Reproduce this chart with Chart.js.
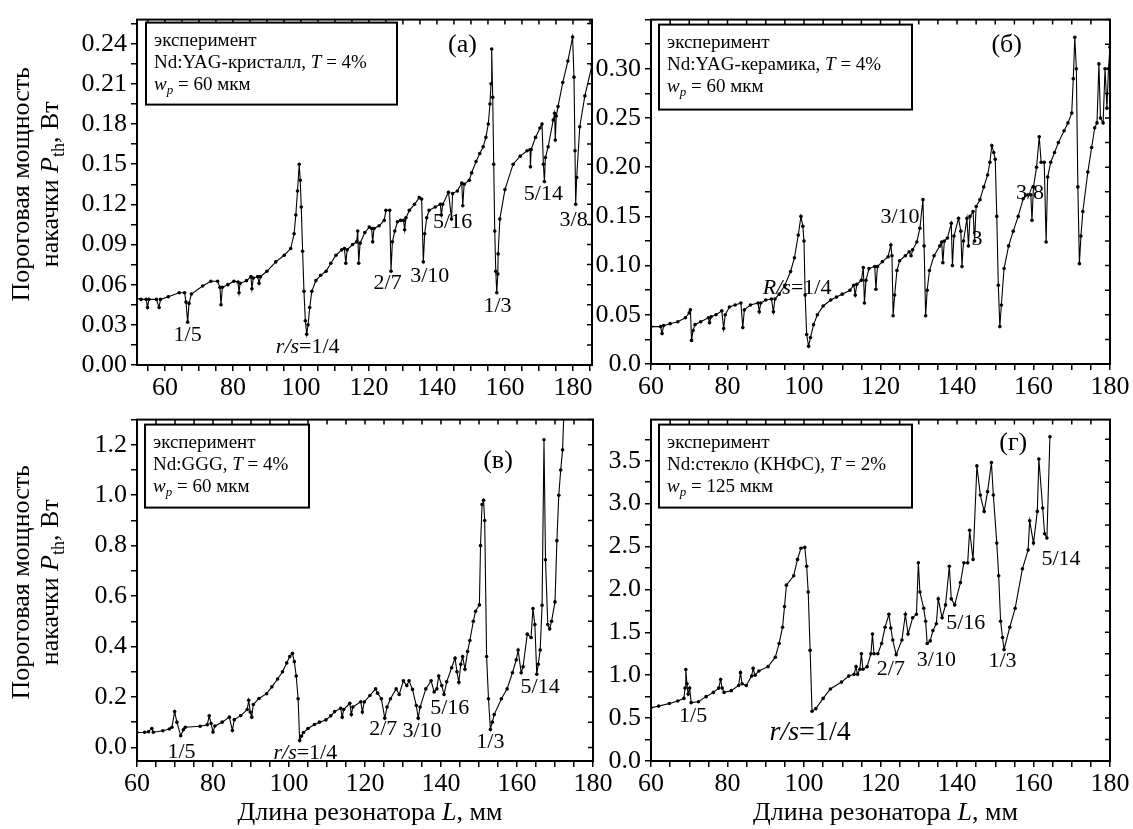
<!DOCTYPE html>
<html>
<head>
<meta charset="utf-8">
<script src="https://cdn.jsdelivr.net/npm/chart.js@4.4.1/dist/chart.umd.min.js"></script>
<style>
  html, body { margin: 0; padding: 0; background: #fff; }
  #wrap { position: relative; width: 1133px; height: 829px; overflow: hidden; }
  canvas { position: absolute; }
</style>
</head>
<body>
<div id="wrap">
  <canvas id="pa" width="620" height="400" style="left:0;top:0"></canvas>
  <canvas id="pb" width="538" height="400" style="left:595px;top:0"></canvas>
  <canvas id="pc" width="620" height="429" style="left:0;top:400px"></canvas>
  <canvas id="pd" width="538" height="429" style="left:595px;top:400px"></canvas>
</div>
<script>
/* ============================================
   DATA  (L, mm  ->  P_th, W)
============================================ */
const seriesA = [
  [51.5,.050],[53,.049],[54.5,.049],[54.9,.043],[55.3,.049],[57.5,.049],[58.3,.043],[58.7,.049],
  [61,.051],[64.2,.054],[65.8,.054],[66.2,.047],[66.7,.032],[67.1,.046],[67.8,.053],[71.1,.059],
  [73.5,.0626],[75.5,.0626],[76.2,.058],[76.5,.045],[76.9,.058],[78.5,.060],[80.3,.0626],[81.5,.062],
  [81.8,.054],[82.1,.061],[84,.063],[85.3,.066],[85.6,.057],[86,.065],[87.3,.066],[87.7,.061],
  [88.1,.066],[90,.070],[92.6,.077],[95.1,.082],[97,.087],[98,.098],[98.5,.112],[99,.130],
  [99.5,.150],[99.8,.138],[100.1,.118],[100.5,.085],[100.9,.055],[101.3,.033],[101.7,.023],[102.1,.030],
  [102.6,.043],[103.2,.055],[104.4,.063],[105.8,.067],[107.4,.070],[108.8,.076],[110.3,.082],[112,.086],
  [112.8,.087],[113.2,.076],[113.6,.086],[115.2,.090],[116.4,.092],[116.7,.100],[117,.076],[117.4,.091],
  [118.8,.099],[120.1,.103],[120.8,.102],[121.1,.092],[121.5,.102],[123,.104],[124.5,.108],[125,.1155],
  [126.1,.1155],[126.5,.070],[126.9,.092],[127.6,.100],[128.4,.107],[129.3,.108],[130.2,.108],[130.5,.101],
  [130.9,.110],[131.9,.1155],[133.4,.120],[134.8,.125],[135.5,.124],[136,.077],[136.4,.098],[137,.110],
  [137.7,.1155],[139.5,.118],[141,.120],[141.3,.112],[141.7,.120],[143.4,.129],[144.3,.109],[144.6,.128],
  [146,.130],[147.3,.136],[147.6,.119],[148,.135],[149.5,.138],[150.2,.1435],[151.5,.152],[152.6,.158],
  [153.6,.163],[154.4,.170],[155.1,.180],[155.6,.195],[155.9,.210],[156.1,.236],[156.4,.200],[156.7,.150],
  [157,.100],[157.3,.070],[157.6,.054],[157.9,.068],[158,.083],[158.5,.109],[160,.131],[162.4,.150],
  [164.5,.156],[166.5,.160],[167.4,.161],[167.5,.148],[167.7,.161],[169,.170],[170.3,.177],[170.9,.180],
  [171.3,.150],[171.6,.137],[171.9,.155],[172.7,.163],[174.2,.183],[174.6,.188],[174.8,.168],[175.1,.186],
  [175.6,.193],[177,.211],[178.5,.227],[179.9,.245],[180.3,.215],[180.6,.160],[180.8,.120],[181.1,.140],
  [182,.178],[183.5,.201],[185.6,.224]
];

const seriesB = [
  [60,.038],[62.5,.038],[62.9,.031],[63.3,.039],[65,.041],[67,.043],[69,.047],[70,.052],[70.3,.055],
  [70.6,.024],[71,.034],[71.5,.040],[73,.043],[75,.047],[75.3,.042],[75.7,.048],[77,.050],[78.5,.054],
  [79,.036],[79.4,.050],[80.5,.058],[82,.060],[83.5,.062],[84,.037],[84.4,.055],[86,.060],[88,.062],
  [88.3,.053],[88.7,.062],[90,.065],[91.5,.066],[92,.053],[92.4,.066],[93.5,.071],[95,.080],[96.5,.094],
  [97.5,.108],[98.5,.131],[99.2,.150],[99.7,.140],[100,.125],[100.3,.070],[100.7,.030],[101.2,.018],
  [101.7,.027],[102.5,.040],[103.5,.050],[105,.059],[107,.065],[108.5,.068],[110,.071],[112,.075],
  [113,.080],[113.4,.070],[113.8,.081],[115,.085],[115.5,.098],[115.8,.062],[116.2,.085],[117,.097],
  [118.5,.099],[118.8,.076],[119.2,.099],[120.5,.104],[122,.109],[122.7,.121],[123,.110],[123.3,.049],
  [123.7,.070],[124.3,.095],[125,.105],[126.5,.110],[127.5,.114],[128,.110],[128.4,.116],[129.5,.124],
  [130.3,.138],[131.1,.167],[131.4,.120],[131.8,.049],[132.2,.075],[132.8,.095],[134,.110],[135.5,.120],
  [136,.124],[136.3,.103],[136.7,.125],[137.5,.128],[138.5,.143],[138.8,.100],[139.2,.130],[140.4,.148],
  [141,.135],[141.3,.099],[141.7,.125],[142.6,.148],[143,.120],[143.4,.150],[144.2,.155],[144.6,.125],
  [145,.160],[146,.167],[147,.180],[148,.192],[148.6,.205],[149.1,.222],[149.6,.215],[150,.208],
  [150.4,.150],[150.8,.080],[151.2,.038],[151.6,.060],[152.3,.097],[153.5,.120],[154.7,.135],[156,.150],
  [157.3,.168],[158.5,.172],[159.3,.172],[159.6,.146],[160,.180],[160.8,.200],[161.5,.231],[162,.205],
  [162.8,.205],[163.3,.124],[163.7,.190],[164.5,.205],[165.5,.215],[166.5,.225],[168,.237],[169,.245],
  [170,.255],[170.4,.290],[170.8,.332],[171.2,.300],[171.6,.180],[172,.102],[172.4,.130],[172.9,.155],
  [174.2,.195],[175.2,.220],[176,.240],[176.6,.245],[177.1,.305],[177.5,.250],[178.2,.245],[178.7,.300],
  [179.2,.260],[179.6,.300],[180,.322]
];

const seriesC = [
  [60,.059],[62,.060],[63,.062],[63.9,.075],[64.3,.060],[66.8,.066],[68.5,.073],[69.2,.080],[69.9,.142],
  [70.5,.100],[71.5,.046],[72.2,.070],[72.7,.080],[76.6,.084],[78.5,.090],[79,.125],[79.5,.095],[80,.061],
  [80.5,.085],[82.4,.100],[84.3,.120],[85.1,.067],[85.6,.110],[87.3,.126],[89,.150],[89.4,.187],[89.8,.140],
  [90.2,.120],[90.6,.170],[92.1,.194],[94.1,.213],[95.5,.240],[97,.271],[98.3,.300],[99.4,.335],[100.2,.360],
  [100.9,.373],[101.4,.340],[101.9,.283],[102.4,.193],[102.8,.027],[103.3,.045],[103.8,.059],[105,.075],
  [106.7,.091],[108,.100],[109.7,.109],[111,.125],[112,.142],[113.6,.155],[114,.120],[114.4,.150],[116,.175],
  [116.4,.130],[116.8,.160],[118.9,.181],[119.3,.140],[119.8,.180],[121.3,.206],[122.8,.232],[123.3,.215],
  [124.3,.193],[125.2,.116],[125.8,.160],[126.7,.193],[128.2,.232],[129,.210],[130.1,.264],[131,.245],
  [131.6,.264],[132.5,.230],[133.5,.166],[134,.116],[134.5,.160],[136,.232],[137.4,.264],[138.2,.220],
  [138.9,.232],[139.4,.283],[140.2,.245],[140.8,.210],[141.5,.260],[142.8,.316],[143.7,.354],[144.2,.300],
  [144.7,.258],[145.2,.330],[145.7,.360],[146.3,.310],[147,.380],[147.6,.424],[148.5,.500],[149.1,.540],
  [150.1,.565],[150.4,.800],[150.8,.963],[151.2,.980],[151.5,.900],[152,.360],[152.5,.193],[153,.071],
  [153.5,.100],[154,.130],[155.9,.193],[157.4,.232],[158.8,.296],[159.8,.347],[160.3,.386],[161.1,.296],
  [161.6,.320],[162.7,.449],[163.7,.436],[164.2,.551],[164.7,.487],[165.2,.290],[165.6,.330],[166.1,.386],
  [166.6,.564],[167.1,1.22],[167.5,.744],[168.1,.487],[168.6,.470],[169.1,.500],[170,.577],[170.5,.820],
  [171,1.00],[171.5,1.10],[172,1.18],[172.6,1.45]
];

const seriesD = [
  [60,.62],[62,.64],[64.8,.67],[67,.70],[68.6,.73],[68.9,.85],[69.1,1.067],[69.4,.90],[69.7,.78],[70.1,.85],
  [70.5,.68],[72.4,.69],[74.4,.75],[76.3,.80],[77.7,.85],[78.2,.95],[78.6,.85],[79.1,.80],[81,.82],[82.9,.88],
  [83.4,1.03],[83.8,.90],[84.9,.88],[86.3,.99],[86.7,1.08],[87.2,1.00],[88.2,1.05],[90.6,1.10],[92.5,1.21],
  [93.5,1.37],[94.4,1.56],[94.9,1.80],[95.4,2.05],[97.3,2.16],[98.3,2.35],[99.2,2.48],[100.2,2.49],[100.7,2.27],
  [101.1,1.97],[101.6,1.29],[102.1,.58],[103.1,.61],[105,.73],[106.9,.84],[109.8,.92],[111.7,.99],[113.1,1.01],
  [113.6,1.10],[114,1.01],[114.6,1.07],[115,1.25],[115.4,1.07],[116.5,1.10],[117.5,1.25],[117.9,1.48],
  [118.3,1.25],[119.3,1.25],[120.3,1.37],[121.2,1.56],[122.2,1.71],[122.7,1.55],[123.2,1.41],[124.1,1.24],
  [125.6,1.41],[126.5,1.71],[127.2,1.48],[128.4,1.67],[129.4,1.71],[129.9,2.31],[130.3,1.97],[131.3,1.78],
  [131.8,1.63],[132.2,1.37],[133,1.40],[133.7,1.52],[134.6,1.60],[135.1,1.89],[136.1,1.67],[137,1.82],
  [138,2.27],[138.5,1.89],[139.4,1.82],[140.9,2.08],[141.8,2.31],[142.8,2.31],[143.3,2.69],[144.2,2.35],
  [145.2,3.44],[146.1,3.10],[147.1,2.91],[148,3.14],[149,3.48],[149.5,3.10],[150.4,2.54],[150.9,2.16],
  [151.4,1.63],[151.9,1.44],[152.3,1.30],[153.8,1.56],[155.2,1.78],[157.1,2.24],[158.6,2.46],[159,2.80],
  [160,2.54],[161,2.91],[161.4,3.52],[162.4,2.95],[162.9,2.65],[163.5,2.60],[164.3,3.78]
];

// tick labels
const xTickLabels = ['60', '80', '100', '120', '140', '160', '180'];
const yTickLabelsA = ['0.00', '0.03', '0.06', '0.09', '0.12', '0.15', '0.18', '0.21', '0.24'];
const yTickLabelsB = ['0.0', '0.05', '0.10', '0.15', '0.20', '0.25', '0.30'];
const yTickLabelsC = ['0.0', '0.2', '0.4', '0.6', '0.8', '1.0', '1.2'];
const yTickLabelsD = ['0.0', '0.5', '1.0', '1.5', '2.0', '2.5', '3.0', '3.5'];

/* ============================================
   TEXT HELPERS
============================================ */
const FAMILY = "'Liberation Serif', 'Times New Roman', serif";
Chart.defaults.font.family = FAMILY;
Chart.defaults.color = '#000';

function fontOf(p, size) {
  const s = p.sub ? Math.round(size * 0.68) : size;
  return (p.i ? 'italic ' : '') + s + 'px ' + FAMILY;
}

// parts: [{t, i (italic), sub}]
function drawRich(ctx, parts, x, y, size, align) {
  ctx.textBaseline = 'middle';
  ctx.textAlign = 'left';
  let total = 0;
  const widths = parts.map(p => { ctx.font = fontOf(p, size); const w = ctx.measureText(p.t).width; total += w; return w; });
  let cx = align === 'center' ? x - total / 2 : x;
  parts.forEach((p, i) => {
    ctx.font = fontOf(p, size);
    ctx.fillText(p.t, cx, p.sub ? y + size * 0.32 : y);
    cx += widths[i];
  });
}

const T = t => ({ t });
const I = t => ({ t, i: 1 });
const yTitle1 = [T('Пороговая мощность')];
const yTitle2 = [T('накачки '), I('P'), { t: 'th', sub: 1 }, T(', Вт')];
const xTitle = [T('Длина резонатора '), I('L'), T(', мм')];
const rs = [I('r/s'), T('=1/4')];

/* ============================================
   PANEL PLUGIN (frame, inner ticks, notes)
============================================ */
const panelPlugin = {
  id: 'panel',
  afterDraw(chart, args, o) {
    const { ctx, chartArea: a, scales: { x, y } } = chart;
    ctx.save();
    ctx.fillStyle = '#000';
    ctx.strokeStyle = '#000';

    // top / right ticks pointing inward
    ctx.lineWidth = 1.5;
    ctx.beginPath();
    x.ticks.forEach(t => { const px = x.getPixelForValue(t.value); ctx.moveTo(px, a.top); ctx.lineTo(px, a.top + 5); });
    y.ticks.forEach(t => { const py = y.getPixelForValue(t.value); ctx.moveTo(a.right, py); ctx.lineTo(a.right - 5, py); });
    ctx.stroke();

    ctx.lineWidth = 2;
    ctx.strokeRect(a.left, a.top, a.right - a.left, a.bottom - a.top);

    // legend box
    const b = o.box;
    const bx = a.left + b.dx, by = a.top + b.dy;
    ctx.fillStyle = '#fff';
    ctx.fillRect(bx, by, b.w, b.h);
    ctx.fillStyle = '#000';
    ctx.lineWidth = 2;
    ctx.strokeRect(bx, by, b.w, b.h);
    b.lines.forEach((ln, i) => drawRich(ctx, ln, bx + 8, by + 18 + i * 22, 19, 'left'));

    // notes in data coordinates
    o.notes.forEach(n => drawRich(ctx, n.parts, x.getPixelForValue(n.x), y.getPixelForValue(n.y), n.size || 22, 'center'));

    if (o.yTitle) {
      const cy = (a.top + a.bottom) / 2 - 8;
      [[yTitle1, 22], [yTitle2, 51]].forEach(([parts, cx]) => {
        ctx.save();
        ctx.translate(cx, cy);
        ctx.rotate(-Math.PI / 2);
        drawRich(ctx, parts, 0, 0, 26, 'center');
        ctx.restore();
      });
    }
    if (o.xTitle) drawRich(ctx, xTitle, (a.left + a.right) / 2 + 5, a.bottom + 52, 26, 'center');
    ctx.restore();
  }
};

/* ============================================
   CHART BUILDER
============================================ */
function buildTicks(min, max, step) {
  const out = [];
  for (let k = Math.ceil(min / step - 1e-9); k * step <= max + 1e-9; k++) {
    out.push({ value: +(k * step).toFixed(6) });
  }
  return out;
}

function labeller(labels) {
  const vals = labels.map(Number);
  return v => { const i = vals.findIndex(m => Math.abs(m - v) < 1e-6); return i < 0 ? '' : labels[i]; };
}

function makePanel(id, cfg) {
  const xLab = labeller(xTickLabels);
  const yLab = labeller(cfg.yLabels);
  new Chart(document.getElementById(id), {
    type: 'line',
    data: {
      datasets: [{
        data: cfg.series.map(([x, y]) => ({ x, y })),
        borderColor: '#000',
        borderWidth: 1.1,
        pointRadius: 1.8,
        pointBackgroundColor: '#000',
        pointBorderWidth: 0,
        tension: 0
      }]
    },
    options: {
      responsive: false,
      animation: false,
      devicePixelRatio: 1,
      layout: { padding: { top: cfg.padTop, right: cfg.padRight, left: 0, bottom: 0 } },
      plugins: {
        legend: { display: false },
        tooltip: { enabled: false },
        panel: { box: cfg.box, notes: cfg.notes, yTitle: cfg.yTitle, xTitle: cfg.xTitle }
      },
      scales: {
        x: {
          type: 'linear',
          min: cfg.xMin, max: cfg.xMax,
          afterBuildTicks: s => { s.ticks = buildTicks(cfg.xMin, cfg.xMax, 5); },
          afterFit: s => { s.height = cfg.xHeight; },
          ticks: { callback: v => xLab(v), autoSkip: false, maxRotation: 0, padding: 2, font: { size: 26 }, color: '#000' },
          grid: { drawOnChartArea: false, tickLength: 6, color: '#000', lineWidth: 1.5 },
          border: { color: '#000', width: 2 }
        },
        y: {
          type: 'linear',
          min: cfg.yMin, max: cfg.yMax,
          afterBuildTicks: s => { s.ticks = buildTicks(cfg.yMin, cfg.yMax, cfg.yMinor); },
          afterFit: s => { s.width = cfg.yWidth; },
          ticks: { callback: v => yLab(v), autoSkip: false, padding: 4, font: { size: 26 }, color: '#000' },
          grid: { drawOnChartArea: false, tickLength: 6, color: '#000', lineWidth: 1.5 },
          border: { color: '#000', width: 2 }
        }
      }
    },
    plugins: [panelPlugin]
  });
}

/* ============================================
   PANELS
============================================ */
makePanel('pa', {
  series: seriesA, xMin: 51.8, xMax: 185.6, yMin: 0, yMax: 0.258, yMinor: 0.015, yLabels: yTickLabelsA,
  yWidth: 137, xHeight: 35, padTop: 14, padRight: 28, yTitle: true, xTitle: false,
  box: { dx: 9, dy: 3, w: 251, h: 82, lines: [
    [T('эксперимент')],
    [T('Nd:YAG-кристалл, '), I('T'), T(' = 4%')],
    [I('w'), { t: 'p', i: 1, sub: 1 }, T(' = 60 мкм')]
  ] },
  notes: [
    { parts: [T('(a)')], x: 147.5, y: 0.239, size: 26 },
    { parts: [T('1/5')], x: 66.7, y: 0.022 },
    { parts: rs, x: 102, y: 0.0135 },
    { parts: [T('2/7')], x: 125.5, y: 0.061 },
    { parts: [T('3/10')], x: 137.9, y: 0.066 },
    { parts: [T('5/16')], x: 144.6, y: 0.107 },
    { parts: [T('1/3')], x: 157.8, y: 0.044 },
    { parts: [T('5/14')], x: 171.3, y: 0.1275 },
    { parts: [T('3/8')], x: 180.2, y: 0.108 }
  ]
});

makePanel('pb', {
  series: seriesB, xMin: 60, xMax: 180, yMin: 0, yMax: 0.35, yMinor: 0.025, yLabels: yTickLabelsB,
  yWidth: 56, xHeight: 36, padTop: 14, padRight: 23, yTitle: false, xTitle: false,
  box: { dx: 8, dy: 5, w: 253, h: 85, lines: [
    [T('эксперимент')],
    [T('Nd:YAG-керамика, '), I('T'), T(' = 4%')],
    [I('w'), { t: 'p', i: 1, sub: 1 }, T(' = 60 мкм')]
  ] },
  notes: [
    { parts: [T('(б)')], x: 153, y: 0.324, size: 26 },
    { parts: [I('R/s'), T('=1/4')], x: 98.2, y: 0.077 },
    { parts: [T('3/10')], x: 125.1, y: 0.149 },
    { parts: [T('3')], x: 145.2, y: 0.127 },
    { parts: [T('3/8')], x: 159.1, y: 0.174 }
  ]
});

makePanel('pc', {
  series: seriesC, xMin: 60, xMax: 180, yMin: -0.054, yMax: 1.3, yMinor: 0.1, yLabels: yTickLabelsC,
  yWidth: 137, xHeight: 68, padTop: 9, padRight: 27, yTitle: true, xTitle: true,
  box: { dx: 8, dy: 5, w: 164, h: 83, lines: [
    [T('эксперимент')],
    [T('Nd:GGG, '), I('T'), T(' = 4%')],
    [I('w'), { t: 'p', i: 1, sub: 1 }, T(' = 60 мкм')]
  ] },
  notes: [
    { parts: [T('(в)')], x: 155, y: 1.136, size: 26 },
    { parts: [T('1/5')], x: 71.7, y: -0.018 },
    { parts: rs, x: 104.3, y: -0.024 },
    { parts: [T('2/7')], x: 124.8, y: 0.072 },
    { parts: [T('3/10')], x: 135, y: 0.066 },
    { parts: [T('5/16')], x: 142.3, y: 0.155 },
    { parts: [T('1/3')], x: 153, y: 0.02 },
    { parts: [T('5/14')], x: 166.1, y: 0.238 }
  ]
});

makePanel('pd', {
  series: seriesD, xMin: 60, xMax: 180, yMin: 0, yMax: 3.98, yMinor: 0.25, yLabels: yTickLabelsD,
  yWidth: 56, xHeight: 68, padTop: 9, padRight: 23, yTitle: false, xTitle: true,
  box: { dx: 8, dy: 5, w: 253, h: 83, lines: [
    [T('эксперимент')],
    [T('Nd:стекло (КНФС), '), I('T'), T(' = 2%')],
    [I('w'), { t: 'p', i: 1, sub: 1 }, T(' = 125 мкм')]
  ] },
  notes: [
    { parts: [T('(г)')], x: 154.7, y: 3.71, size: 26 },
    { parts: [T('1/5')], x: 71, y: 0.52 },
    { parts: rs, x: 101.6, y: 0.33, size: 28 },
    { parts: [T('2/7')], x: 122.7, y: 1.067 },
    { parts: [T('3/10')], x: 134.6, y: 1.18 },
    { parts: [T('5/16')], x: 142.3, y: 1.61 },
    { parts: [T('1/3')], x: 151.9, y: 1.16 },
    { parts: [T('5/14')], x: 167.2, y: 2.35 }
  ]
});
</script>
</body>
</html>
